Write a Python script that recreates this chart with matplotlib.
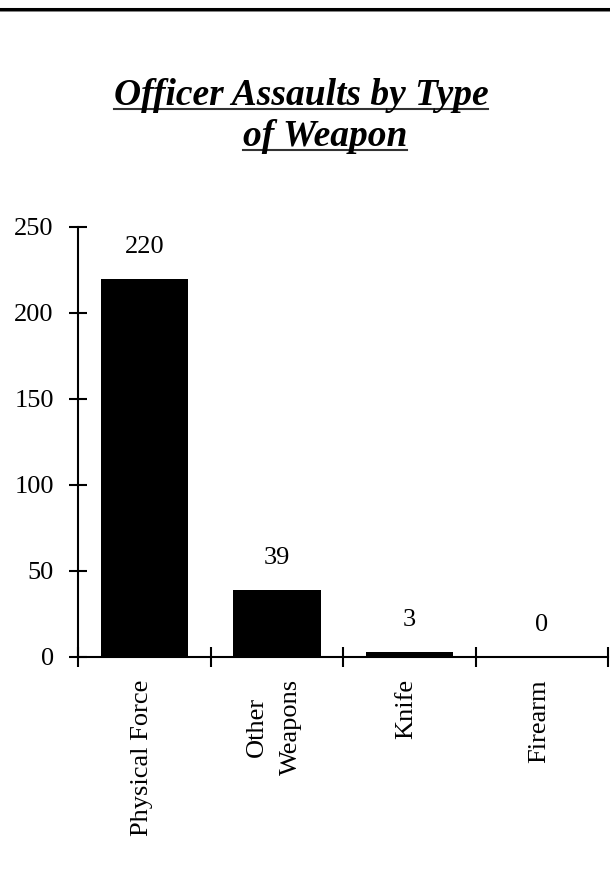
import matplotlib.pyplot as plt
from matplotlib.lines import Line2D

categories = ['Physical Force', 'Other\nWeapons', 'Knife', 'Firearm']
values = [220, 39, 3, 0]
yticks = [0, 50, 100, 150, 200, 250]
title_lines = ['Officer Assaults by Type', 'of Weapon']

plt.rcParams['font.family'] = ['Liberation Serif', 'DejaVu Serif']

fig = plt.figure(figsize=(6.1, 8.71), dpi=100)
ax = fig.add_axes([0.128, 0.2457, 0.869, 0.4937])

x = list(range(len(categories)))
ax.bar(x, values, width=0.66, color='black')
ax.set_xlim(-0.5, len(categories) - 0.5)
ax.set_ylim(0, 250)

for s in ['top', 'right']:
    ax.spines[s].set_visible(False)
for s in ['left', 'bottom']:
    ax.spines[s].set_linewidth(1.5)

ax.set_yticks(yticks)
ax.tick_params(axis='y', direction='inout', length=13, width=1.5, labelsize=19, pad=11)
ax.set_xticks([i - 0.5 for i in range(len(categories) + 1)])
ax.set_xticklabels([])
ax.tick_params(axis='x', direction='inout', length=14, width=1.5)

# category labels, rotated, top aligned under the axis
for i, c in enumerate(categories):
    ax.annotate(c, xy=(i, 0), xycoords=('data', 'axes fraction'),
                xytext=(-2, -16), textcoords='offset points',
                rotation=90, ha='center', va='top', fontsize=19,
                multialignment='center', linespacing=1.7)

# value labels above bars
for i, v in enumerate(values):
    ax.annotate(str(v), xy=(i, v), xytext=(0, 23), textcoords='offset points',
                ha='center', va='center', fontsize=19)

# title, bold italic underlined, two separately placed lines
fig.canvas.draw()
r = fig.canvas.get_renderer()
for txt, xc, yb in zip(title_lines, [0.4934, 0.5328], [0.8795, 0.8324]):
    t = fig.text(xc, yb, txt, ha='center', va='baseline', fontsize=27,
                 fontweight='bold', fontstyle='italic')
    bb = t.get_window_extent(renderer=r).transformed(fig.transFigure.inverted())
    yu = yb - 4 / 871
    fig.add_artist(Line2D([bb.x0, bb.x1], [yu, yu], transform=fig.transFigure,
                          color='#333333', lw=1.5))

# rule at top of page
fig.add_artist(Line2D([0, 1], [0.9894, 0.9894], transform=fig.transFigure,
                      color='black', lw=2.2))
fig.add_artist(Line2D([0, 1], [0.9870, 0.9870], transform=fig.transFigure,
                      color='gray', lw=0.7))

fig.savefig('out.png', dpi=100)
